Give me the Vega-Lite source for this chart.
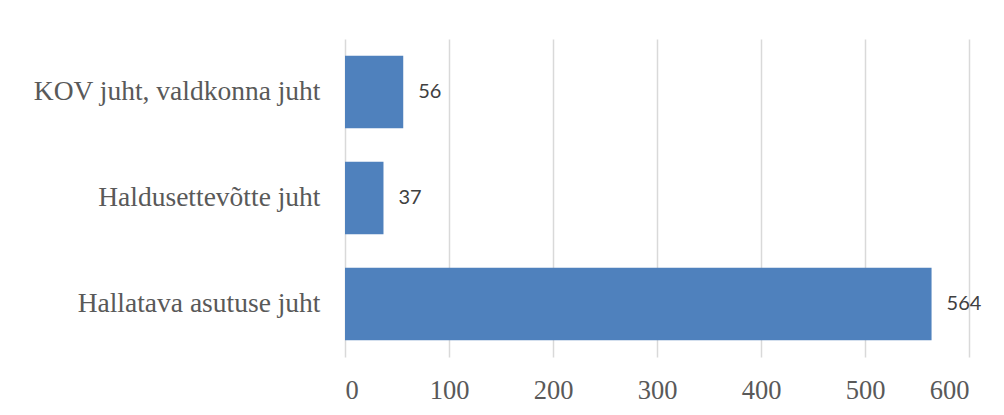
{
  "$schema": "https://vega.github.io/schema/vega-lite/v6.json",
  "autosize": "none",
  "width": 624,
  "height": 318,
  "padding": {"left": 345, "top": 39, "right": 35, "bottom": 58},
  "background": "white",
  "data": {
    "values": [
      {"juht": "KOV juht, valdkonna juht", "arv": 56},
      {"juht": "Haldusettevõtte juht", "arv": 37},
      {"juht": "Hallatava asutuse juht", "arv": 564}
    ]
  },
  "encoding": {
    "y": {
      "field": "juht",
      "type": "nominal",
      "sort": null,
      "scale": {"paddingInner": 0.314, "paddingOuter": 0.157},
      "axis": {
        "title": null,
        "domain": false,
        "ticks": false,
        "labelFont": "Liberation Serif",
        "labelFontSize": 27.5,
        "labelColor": "#595959",
        "labelPadding": 25,
        "labelLimit": 400
      }
    },
    "x": {
      "field": "arv",
      "type": "quantitative",
      "scale": {"domain": [0, 600], "nice": false},
      "axis": {
        "title": null,
        "values": [0, 100, 200, 300, 400, 500, 600],
        "domain": false,
        "ticks": false,
        "grid": true,
        "gridColor": "#D9D9D9",
        "gridWidth": 1.5,
        "labelFont": "Liberation Serif",
        "labelFontSize": 26.5,
        "labelColor": "#595959",
        "labelPadding": 20
      }
    }
  },
  "layer": [
    {"mark": {"type": "bar", "color": "#4F81BD"}},
    {
      "mark": {
        "type": "text",
        "align": "left",
        "baseline": "middle",
        "dx": 15,
        "font": "Lato",
        "fontSize": 20,
        "color": "#404040"
      },
      "encoding": {"text": {"field": "arv", "type": "quantitative"}}
    }
  ],
  "config": {"view": {"stroke": null}}
}
